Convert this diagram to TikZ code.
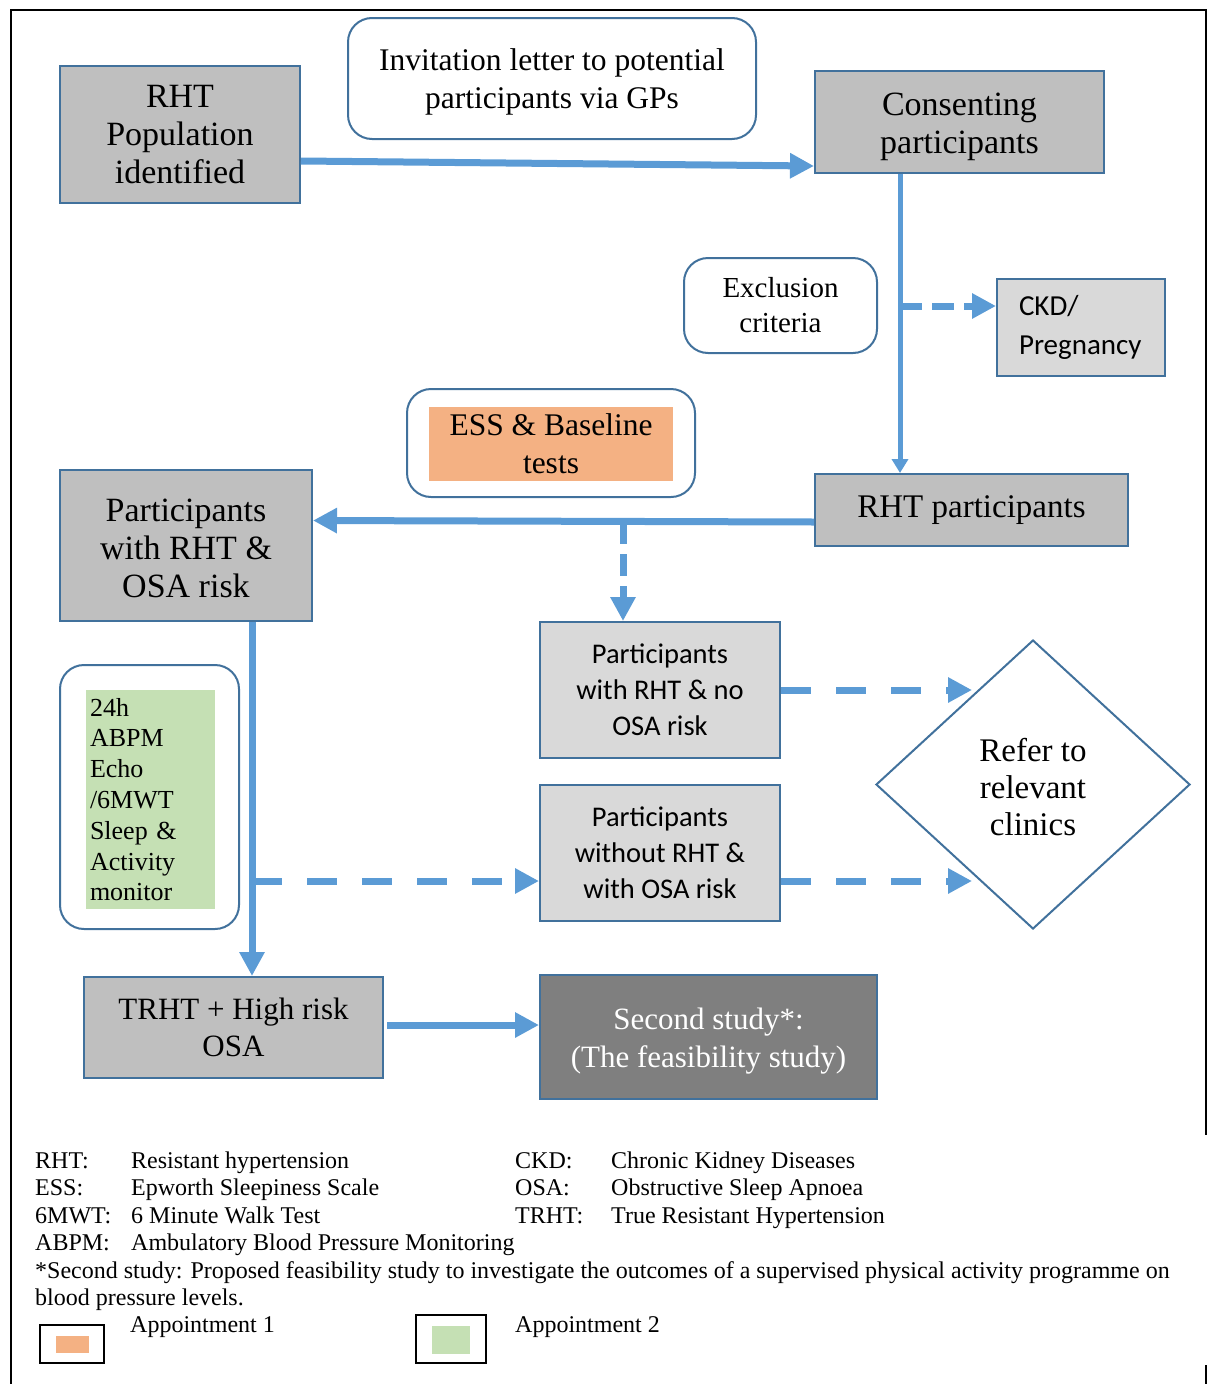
\documentclass[tikz,border=0pt]{standalone}
\usepackage{fontspec}
\setmainfont{Liberation Serif}
\newfontfamily\calib{Carlito}
\usetikzlibrary{arrows.meta,calc,shapes.geometric}
\definecolor{bord}{HTML}{41719C}
\definecolor{gmid}{HTML}{BFBFBF}
\definecolor{glight}{HTML}{D9D9D9}
\definecolor{gdark}{HTML}{7F7F7F}
\definecolor{ablue}{HTML}{5B9BD5}
\definecolor{orng}{HTML}{F4B183}
\definecolor{grn}{HTML}{C5E0B4}
\begin{document}
\begin{tikzpicture}[x=1pt,y=-1pt,
  box/.style={draw=bord, line width=2pt, inner sep=0pt, align=center, text=black},
  gbox/.style={box, fill=gmid},
  lbox/.style={box, fill=glight},
  rbox/.style={box, rounded corners=24pt, fill=white},
  fA/.style={font=\fontsize{34}{38}\selectfont},
  fB/.style={font=\fontsize{31.5}{38}\selectfont},
  fC/.style={font=\calib\fontsize{28.5}{36}\selectfont},
  arr/.style={draw=ablue, line width=7pt, -{Triangle[length=24pt,width=24pt]}},
  thinarr/.style={draw=ablue, line width=5pt, -{Triangle[length=14pt,width=16pt]}},
  dlong/.style={arr, dash pattern=on 30pt off 25pt},
  dshort/.style={arr, dash pattern=on 22pt off 10pt},
  leg/.style={anchor=base west, inner sep=0pt, font=\fontsize{24}{27}\selectfont},
  lbx/.style={draw=black, line width=1.5pt, fill=white, inner sep=0pt}
]
\useasboundingbox (0,0) rectangle (1207,1384);
% outer frame
\draw[line width=2.5pt, black] (11,1384) -- (11,10) -- (1206,10) -- (1206,1135);
\draw[line width=2.5pt, black] (1206,1365) -- (1206,1384);

% nodes
\node[gbox, fA, minimum width=240pt, minimum height=137pt] (pop) at (180,134.5) {RHT\\Population\\identified};
\node[rbox, minimum width=408pt, minimum height=121pt] (inv) at (552,78.5) {};
\node[fB, align=center, inner sep=0pt] (invt) at (552,82) {Invitation letter to potential\\participants via GPs};
\node[gbox, minimum width=289pt, minimum height=102pt] (cons) at (959.5,122) {};
\node[fA, align=center, inner sep=0pt] (const) at (959.5,127) {Consenting\\participants};
\node[rbox, font=\fontsize{29}{35}\selectfont, minimum width=193pt, minimum height=95pt] (excl) at (780.5,305.5) {Exclusion\\criteria};
\node[lbox, font=\calib\fontsize{29}{39}\selectfont, text width=124pt, inner xsep=22pt, align=left, minimum height=97pt] (ckd) at (1081,327.5) {CKD/\\Pregnancy};
\node[rbox, minimum width=288pt, minimum height=108pt] (essout) at (551,443) {};
\node[inner sep=0pt, fill=orng, fB, align=center, minimum width=244pt, minimum height=74pt] (ess) at (551,444) {ESS \& Baseline\\tests};
\node[gbox, font=\fontsize{33}{38}\selectfont, minimum width=313pt, minimum height=72pt] (rhtp) at (971.5,510) {RHT participants};
\node[gbox, minimum width=252pt, minimum height=151pt] (osa) at (186,545.5) {};
\node[fA, align=center, inner sep=0pt] (osat) at (186,548.5) {Participants\\with RHT \&\\OSA risk};
\node[lbox, fC, minimum width=240pt, minimum height=136pt] (noosa) at (660,690) {Participants\\with RHT \& no\\OSA risk};
\node[lbox, fC, minimum width=240pt, minimum height=136pt] (northt) at (660,853) {Participants\\without RHT \&\\with OSA risk};
\node[box, diamond, aspect=1.087, fill=white, minimum width=314pt, minimum height=289pt] (dia) at (1033,784.5) {};
\node[font=\fontsize{33}{37}\selectfont, align=center, inner sep=0pt] (diat) at (1033,787.5) {Refer to\\relevant\\clinics};
\node[rbox, minimum width=179pt, minimum height=264pt] (apout) at (149.5,797) {};
\node[inner sep=0pt, inner xsep=4pt, fill=grn, font=\fontsize{26}{30.8}\selectfont, text width=121pt, align=left, minimum height=219pt] (ap) at (150.5,799.5) {24h\\ABPM\\Echo\\/6MWT\\Sleep \&\\Activity\\monitor};
\node[gbox, font=\fontsize{31}{37}\selectfont, minimum width=299pt, minimum height=101pt] (trht) at (233.5,1027.5) {TRHT + High risk\\OSA};
\node[box, fill=gdark, minimum width=337pt, minimum height=124pt] (second) at (708.5,1037) {};
\node[text=white, font=\fontsize{31}{38}\selectfont, align=center, inner sep=0pt] (secondt) at (708.5,1041) {Second study*:\\(The feasibility study)};

% coordinates for branch points
\coordinate (b1) at (900,306);
\coordinate (b2) at (623,522);
\coordinate (b3) at (252,881);
\coordinate (d1) at (972,690);
\coordinate (d2) at (972,881);

% connectors
\draw[arr] ($(pop.east)+(0,26.5)$) -- ($(cons.west)+(0,44)$);
\draw[thinarr] ($(cons.south)+(-59.5,0)$) -- ($(rhtp.north)+(-71.5,0)$);
\draw[dshort] (b1) -- ($(ckd.west)+(0,-21.5)$);
\draw[arr] ($(rhtp.west)+(0,12)$) -- ($(osa.east)+(0,-25)$);
\draw[dshort] (b2) -- ($(noosa.north)+(-37,0)$);
\draw[arr] ($(osa.south)+(66,0)$) -- ($(trht.north)+(18.5,0)$);
\draw[dlong] (b3) -- ($(northt.west)+(0,28)$);
\draw[dlong] (noosa.east) -- (d1);
\draw[dlong] ($(northt.east)+(0,28)$) -- (d2);
\draw[arr] ($(trht.east)+(3,-2.5)$) -- ($(second.west)+(0,-12)$);

% legend
\node[leg] (l1a) at (35,1168) {RHT:};
\node[leg] (l1b) at (131,1168) {Resistant hypertension};
\node[leg] (l1c) at (515,1168) {CKD:};
\node[leg] (l1d) at (611,1168) {Chronic Kidney Diseases};
\node[leg] (l2a) at (35,1195) {ESS:};
\node[leg] (l2b) at (131,1195) {Epworth Sleepiness Scale};
\node[leg] (l2c) at (515,1195) {OSA:};
\node[leg] (l2d) at (611,1195) {Obstructive Sleep Apnoea};
\node[leg] (l3a) at (35,1223) {6MWT:};
\node[leg] (l3b) at (131,1223) {6 Minute Walk Test};
\node[leg] (l3c) at (515,1223) {TRHT:};
\node[leg] (l3d) at (611,1223) {True Resistant Hypertension};
\node[leg] (l4a) at (35,1250) {ABPM:};
\node[leg] (l4b) at (131,1250) {Ambulatory Blood Pressure Monitoring};
\node[leg] (l5) at (35,1278) {*Second study: Proposed feasibility study to investigate the outcomes of a supervised physical activity programme on};
\node[leg] (l6) at (35,1305) {blood pressure levels.};
\node[lbx, minimum width=64pt, minimum height=38pt] (k1) at (72,1344) {};
\node[inner sep=0pt, fill=orng, minimum width=33pt, minimum height=17pt] (k1i) at (72.5,1344.5) {};
\node[leg] (k1t) at (130,1332) {Appointment 1};
\node[lbx, minimum width=70pt, minimum height=48pt] (k2) at (451,1339) {};
\node[inner sep=0pt, fill=grn, minimum width=38pt, minimum height=28pt] (k2i) at (451,1340) {};
\node[leg] (k2t) at (515,1332) {Appointment 2};
\end{tikzpicture}
\end{document}
